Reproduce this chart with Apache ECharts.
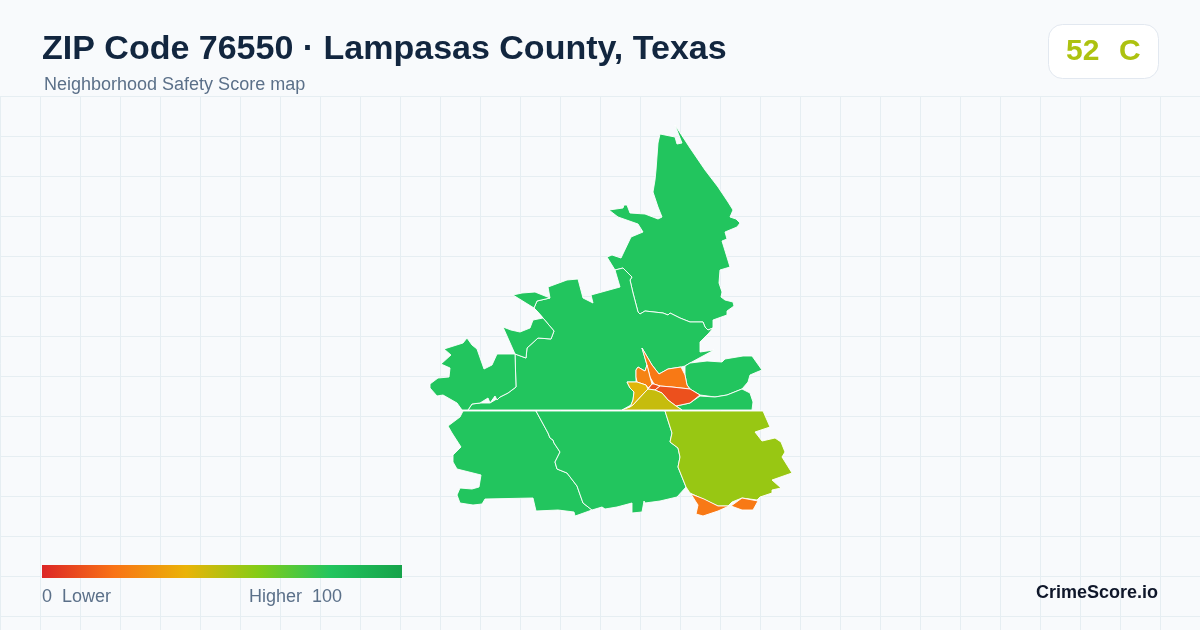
<!DOCTYPE html>
<html><head><meta charset="utf-8">
<style>html,body{margin:0;padding:0;background:#f8fafc}#c{width:1200px;height:630px}</style>
<script src="https://cdn.jsdelivr.net/npm/echarts@6/dist/echarts.min.js"></script>
</head><body><div id="c"></div>
<script>
const titleText = "ZIP Code 76550 · Lampasas County, Texas";
const subtitleText = "Neighborhood Safety Score map";
const overallScore = 52, overallGrade = "C";
const scaleStops = ["#dc2626","#f97316","#eab308","#84cc16","#22c55e","#16a34a"];
const scaleMin = 0, scaleMax = 100;

const north = [[675,125],[690,148],[705,170],[718,187],[728,202],[733,210],[730,217],[736,219],[740,223],[737,227],[725,232],[727,239],[722,241],[730,267],[720,270],[719,283],[722,292],[721,297],[725,300],[733,302],[734,306],[727,311],[727,315],[713,320],[713,328],[708,330],[705,327],[703,322],[690,322],[680,318],[670,313],[668,315],[663,313],[645,311],[640,314],[638,312],[633,293],[630,280],[632,277],[623,268],[615,270],[607,257],[612,255],[621,258],[631,237],[643,232],[638,224],[618,217],[609,210],[623,208],[624,205],[627,205],[630,213],[645,214],[658,219],[662,217],[658,207],[653,192],[655,180],[656,170],[658,143],[660,134],[675,137],[677,144],[682,143],[680,138]];
const central = [[615,270],[623,268],[632,277],[630,280],[633,293],[638,312],[640,314],[645,311],[663,313],[668,315],[670,313],[680,318],[690,322],[703,322],[705,327],[708,330],[713,328],[709,333],[700,342],[700,352],[714,350],[690,363],[685,366],[681,367],[668,369],[659,374],[652,365],[642,348],[647,365],[645,371],[643,370],[638,367],[636,370],[636,382],[627,382],[630,388],[634,392],[633,400],[631,405],[622,410],[462,410],[468,410],[472,404],[480,403],[490,403],[500,397],[508,393],[516,387],[515,354],[526,358],[527,348],[538,338],[551,339],[554,331],[543,318],[534,308],[537,301],[550,298],[548,287],[567,280],[578,279],[583,298],[593,303],[591,295],[620,287]];
const northwest = [[513,295],[522,293],[535,292],[550,298],[537,301],[534,308],[543,318],[554,331],[551,339],[538,338],[527,348],[526,358],[515,354],[503,327],[511,330],[520,332],[530,328],[533,320],[543,318],[534,308]];
const farWest = [[515,354],[516,387],[508,393],[500,397],[497,400],[495,396],[490,403],[488,398],[480,403],[472,404],[468,410],[462,410],[457,403],[443,395],[437,396],[430,388],[430,384],[438,378],[449,377],[450,368],[441,364],[451,355],[444,349],[463,343],[467,338],[472,345],[477,349],[484,369],[492,365],[497,354]];
const eastUpper = [[685,366],[690,363],[707,361],[722,362],[725,359],[743,356],[752,356],[757,363],[762,370],[757,372],[750,375],[748,382],[742,389],[727,395],[715,397],[700,395],[690,389],[687,385],[685,375]];
const eastLower = [[700,396],[715,397],[727,395],[742,389],[750,393],[753,402],[752,410],[682,410],[676,406],[690,403]];
const spire = [[642,348],[652,365],[659,374],[668,369],[681,367],[685,375],[687,385],[690,389],[672,387],[660,386],[654,384],[650,377],[647,365]];
const westOrange = [[636,370],[638,367],[643,370],[645,371],[647,365],[650,377],[652,384],[648,388],[646,385],[637,382],[636,377]];
const redCore = [[654,384],[660,386],[655,390],[648,389],[648,388],[652,384]];
const redEast = [[660,386],[672,387],[690,389],[700,395],[690,403],[676,406],[668,400],[662,393],[655,390]];
const yellowWest = [[627,382],[637,382],[646,385],[648,389],[646,391],[633,405],[630,407],[631,405],[633,400],[634,392],[630,388]];
const oliveCore = [[646,391],[648,389],[655,390],[662,393],[668,400],[676,406],[682,410],[622,410],[630,407],[633,405]];
const southWest = [[463,411],[536,411],[548,433],[550,438],[553,440],[554,443],[560,452],[555,462],[557,469],[567,473],[577,486],[583,503],[592,510],[578,515],[575,516],[574,512],[558,510],[536,511],[533,498],[485,499],[482,504],[473,505],[460,503],[457,495],[460,488],[472,489],[479,487],[481,475],[457,469],[453,462],[453,455],[461,447],[452,433],[448,426],[460,417]];
const southMid = [[536,411],[665,411],[672,433],[670,442],[678,448],[680,457],[678,467],[686,487],[677,497],[660,501],[645,503],[644,501],[642,512],[632,513],[632,503],[617,507],[605,509],[602,507],[592,510],[583,503],[577,486],[567,473],[557,469],[555,462],[560,452],[554,443],[553,440],[550,438],[548,433]];
const southEast = [[665,411],[763,411],[770,427],[755,432],[762,441],[775,438],[781,442],[785,452],[782,457],[792,473],[772,480],[781,488],[772,490],[772,493],[760,497],[757,500],[742,498],[732,502],[728,506],[718,506],[690,493],[686,487],[678,467],[680,457],[678,448],[670,442],[672,433]];
const tailWest = [[691,494],[704,499],[718,506],[729,506],[718,511],[703,516],[696,514],[698,505],[696,502]];
const tailEast = [[731,506],[742,498],[758,501],[753,510],[742,510]];

const regionNames = ["north","central","northwest","farWest","eastUpper","eastLower","spire","westOrange","redCore","redEast","yellowWest","oliveCore","southWest","southMid","southEast","tailWest","tailEast"];
const regionRings = [north,central,northwest,farWest,eastUpper,eastLower,spire,westOrange,redCore,redEast,yellowWest,oliveCore,southWest,southMid,southEast,tailWest,tailEast];
const regionScores = [80,80,80,80,80,80,22,25,11,11,42,47,80,80,56,22,22];

const geo = {type:"FeatureCollection",features:regionNames.map((n,i)=>({type:"Feature",properties:{name:n},geometry:{type:"Polygon",coordinates:[regionRings[i].concat([regionRings[i][0]])]}}))};
echarts.registerMap("zip76550",geo);
const all = regionRings.flat();
const xs = all.map(p=>p[0]), ys = all.map(p=>p[1]);
const x0=Math.min(...xs),x1=Math.max(...xs),y0=Math.min(...ys),y1=Math.max(...ys);

const gridEls=[];
const gridStyle={stroke:"#e6eef2",lineWidth:1};
for(let x=0.5;x<1200;x+=40)gridEls.push({type:"line",silent:true,shape:{x1:x,y1:96.5,x2:x,y2:630},style:gridStyle});
for(let y=96.5;y<630;y+=40)gridEls.push({type:"line",silent:true,shape:{x1:0,y1:y,x2:1200,y2:y},style:gridStyle});
const font='"Liberation Sans",Arial,sans-serif';
const txt=(x,y,text,size,weight,fill,align)=>({type:"text",x,y,silent:true,style:{text,fontFamily:font,fontSize:size,fontWeight:weight,fill,align:align||"left",verticalAlign:"middle"}});

const chart=echarts.init(document.getElementById("c"),null,{renderer:"canvas",width:1200,height:630});
chart.setOption({
 animation:false,
 backgroundColor:"#f8fafc",
 visualMap:{type:"continuous",show:false,min:scaleMin,max:scaleMax,seriesIndex:0,inRange:{color:scaleStops}},
 graphic:{elements:[...gridEls,
  txt(42,50,titleText,34,"bold","#12263f"),
  txt(44,85,subtitleText,18,"normal","#5b7089"),
  {type:"rect",silent:true,shape:{x:1048.5,y:24.5,width:110,height:54,r:14},style:{fill:"#ffffff",stroke:"#e2e8f0",lineWidth:1}},
  txt(1066,52,String(overallScore),30,"bold","#adc210"),
  txt(1119,52,overallGrade,30,"bold","#adc210"),
  {type:"rect",silent:true,shape:{x:42,y:565,width:360,height:13},style:{fill:new echarts.graphic.LinearGradient(0,0,1,0,scaleStops.map((c,i)=>({offset:i/(scaleStops.length-1),color:c})))}},
  txt(42,597,scaleMin+"  Lower",18,"normal","#5b7089"),
  txt(249,597,"Higher  "+scaleMax,18,"normal","#5b7089"),
  txt(1158,593.5,"CrimeScore.io",18,"bold","#0f172a","right")
 ]},
 series:[{type:"map",map:"zip76550",
  projection:{project:p=>[p[0],p[1]],unproject:p=>[p[0],p[1]]},
  layoutCenter:[(x0+x1)/2,(y0+y1)/2],layoutSize:Math.max(y1-y0,x1-x0),
  silent:true,selectedMode:false,roam:false,
  label:{show:false},emphasis:{disabled:true},
  itemStyle:{borderColor:"#ffffff",borderWidth:0.9},
  data:regionNames.map((n,i)=>({name:n,value:regionScores[i]}))}]
});
</script></body></html>
